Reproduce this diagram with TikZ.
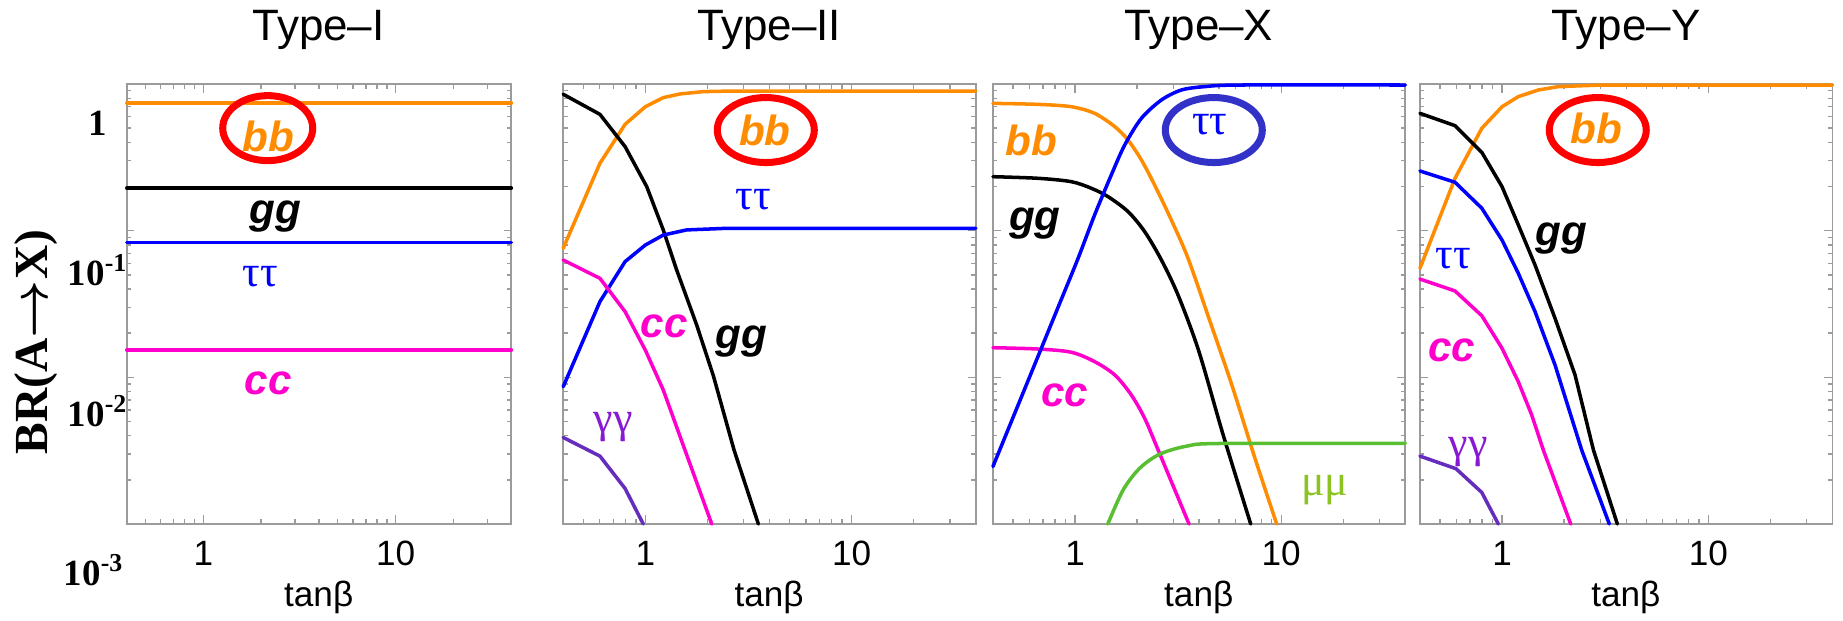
\documentclass[tikz,border=0pt]{standalone}
\usepackage{fontspec}
\setmainfont{Liberation Serif}
\setsansfont{Liberation Sans}
\usetikzlibrary{shapes.geometric}
\definecolor{orangeline}{RGB}{255,140,0}
\definecolor{blueline}{RGB}{0,0,255}
\definecolor{pinkline}{RGB}{255,0,204}
\definecolor{purpleline}{RGB}{100,45,190}
\definecolor{purpletext}{RGB}{135,25,210}
\definecolor{greenline}{RGB}{90,190,50}
\definecolor{greentext}{RGB}{140,195,35}
\definecolor{ringred}{RGB}{255,0,0}
\definecolor{ringblue}{RGB}{50,50,200}
\definecolor{axisgray}{RGB}{155,155,155}
\tikzset{
	panel/.style 2 args={shift={(#1,0.96)}, xscale=#2, yscale=1.4667},
	box/.style={draw=axisgray, line width=0.5pt},
	tk/.style={axisgray, line width=0.4pt},
	br/.style={line width=1pt, line join=round, line cap=round},
	title/.style={font=\sffamily\fontsize{12.5}{14}\selectfont},
	num/.style={font=\sffamily\fontsize{10}{12}\selectfont},
	ylab/.style={font=\bfseries\fontsize{13.5}{15}\selectfont, inner sep=0pt},
	ynum/.style={font=\bfseries\fontsize{10.5}{12}\selectfont},
	quark/.style={font=\sffamily\bfseries\itshape\fontsize{12}{14}\selectfont},
	lepton/.style={font=\fontsize{12.5}{14}\selectfont},
	ring/.style={ellipse, draw, line width=2pt, minimum width=0.97cm, minimum height=0.65cm, inner sep=0pt}
}

\begin{document}
\begin{tikzpicture}
	\useasboundingbox (0,0) rectangle (18.43,6.2);

	% common axis text
	\node[ylab, rotate=90] (brlab) at (0.36,2.78) {BR(A{\boldmath$\rightarrow$}X)};
	\node[ynum] (yone) at (0.975,4.97) {1};
	\node[ynum] (ytenth) at (0.98,3.50) {10\textsuperscript{-1}};
	\node[ynum] (yhundredth) at (0.98,2.09) {10\textsuperscript{-2}};
	\node[ynum] (ythousandth) at (0.94,0.50) {10\textsuperscript{-3}};

	% frames, ticks, titles
	\foreach \ox/\dx/\nm in {2.033/1.923/I, 6.453/2.063/II, 10.75/2.062/X, 15.02/2.063/Y}{
		\begin{scope}[panel={\ox}{\dx}]
			\draw[box] (-0.398,0) rectangle (1.602,3);
			\foreach \t in {0.5,0.6,0.7,0.8,0.9,2,3,4,5,6,7,8,9,20,30} {
				\draw[tk] ({log10(\t)},0) -- ++(0,0.035);
				\draw[tk] ({log10(\t)},3) -- ++(0,-0.035);
			}
			\foreach \t in {0,1} {
				\draw[tk] (\t,0) -- ++(0,0.06);
				\draw[tk] (\t,3) -- ++(0,-0.06);
			}
			\foreach \m in {0,1,2} {
				\foreach \k in {2,...,9} {
					\draw[tk] (-0.398,{\m+log10(\k)}) -- ++(0.022,0);
					\draw[tk] (1.602,{\m+log10(\k)}) -- ++(-0.022,0);
				}
			}
			\foreach \m in {1,2} {
				\draw[tk] (-0.398,\m) -- ++(0.04,0);
				\draw[tk] (1.602,\m) -- ++(-0.04,0);
			}
			\node[title] (title\nm) at (0.6,3.37) {Type–\nm};
			\node[num] (one\nm) at (0,-0.2) {1};
			\node[num] (ten\nm) at (1,-0.2) {10};
			\node[num] (tanb\nm) at (0.6,-0.5) {tanβ};
		\end{scope}
	}

	% Type-I
	\begin{scope}[panel={2.033}{1.923}]
		\draw[br, orangeline] (-0.398,2.87) -- (1.602,2.87);
		\draw[br, black] (-0.398,2.29) -- (1.602,2.29);
		\draw[br, blueline] (-0.398,1.918) -- (1.602,1.918);
		\draw[br, pinkline] (-0.398,1.186) -- (1.602,1.186);

		\node[quark, orangeline] (bbI) at (0.338,2.645) {bb};
		\node[ring, ringred, minimum width=0.9cm] (ringI) at (0.335,2.699) {};
		\node[quark] (ggI) at (0.373,2.093) {gg};
		\node[lepton, blueline] (tautauI) at (0.295,1.689) {ττ};
		\node[quark, pinkline] (ccI) at (0.338,0.961) {cc};
	\end{scope}

	% Type-II
	\begin{scope}[panel={6.453}{2.063}]
		\draw[br, orangeline] (-0.398,1.880) -- (-0.220,2.459) -- (-0.098,2.725) -- (0,2.845) -- (0.087,2.907) -- (0.168,2.932) -- (0.281,2.948) -- (0.427,2.952) -- (1.602,2.952);
		\draw[br, black] (-0.398,2.930) -- (-0.220,2.793) -- (-0.098,2.573) -- (0.007,2.300) -- (0.087,2.005) -- (0.152,1.732) -- (0.249,1.357) -- (0.330,1.010) -- (0.430,0.505) -- (0.548,0);
		\draw[br, blueline] (-0.398,0.936) -- (-0.220,1.516) -- (-0.098,1.789) -- (0,1.902) -- (0.087,1.970) -- (0.200,2.005) -- (0.394,2.016) -- (1.602,2.016);
		\draw[br, pinkline] (-0.398,1.800) -- (-0.220,1.675) -- (-0.098,1.448) -- (0,1.186) -- (0.087,0.914) -- (0.192,0.505) -- (0.322,0);
		\draw[br, purpleline] (-0.398,0.590) -- (-0.220,0.463) -- (-0.098,0.242) -- (-0.010,0);

		\node[quark, orangeline] (bbII) at (0.580,2.686) {bb};
		\node[ring, ringred] (ringII) at (0.584,2.686) {};
		\node[lepton, blueline] (tautauII) at (0.524,2.209) {ττ};
		\node[quark, pinkline] (ccII) at (0.091,1.345) {cc};
		\node[quark] (ggII) at (0.467,1.243) {gg};
		\node[lepton, purpletext] (gagaII) at (-0.155,0.664) {γγ};
	\end{scope}

	% Type-X
	\begin{scope}[panel={10.75}{2.062}]
		\draw[br, orangeline] plot[smooth] coordinates {(-0.398,2.868) (-0.179,2.861) (-0.018,2.845) (0.095,2.800) (0.193,2.709) (0.257,2.618) (0.322,2.482) (0.386,2.311) (0.467,2.073) (0.548,1.812) (0.650,1.40) (0.760,0.95) (0.870,0.46) (0.978,0)};
		\draw[br, black] plot[smooth] coordinates {(-0.398,2.368) (-0.179,2.357) (-0.018,2.334) (0.079,2.289) (0.160,2.232) (0.257,2.130) (0.338,1.993) (0.419,1.80) (0.500,1.56) (0.600,1.18) (0.720,0.60) (0.852,0)};
		\draw[br, pinkline] plot[smooth] coordinates {(-0.398,1.202) (-0.179,1.193) (-0.018,1.171) (0.095,1.107) (0.193,1.016) (0.273,0.880) (0.338,0.720) (0.403,0.505) (0.553,0)};
		\draw[br, greenline] plot[smooth] coordinates {(0.159,0) (0.234,0.234) (0.315,0.382) (0.412,0.477) (0.542,0.531) (0.703,0.549) (1.602,0.55)};
		\draw[br, blueline] plot[smooth] coordinates {(-0.398,0.392) (-0.260,0.866) (-0.082,1.478) (0.015,1.812) (0.095,2.107) (0.176,2.380) (0.241,2.584) (0.322,2.766) (0.419,2.891) (0.516,2.959) (0.629,2.982) (0.807,2.993) (1.602,2.993)};

		\node[quark, orangeline] (bbX) at (-0.212,2.618) {bb};
		\node[quark] (ggX) at (-0.195,2.050) {gg};
		\node[quark, pinkline] (ccX) at (-0.050,0.880) {cc};
		\node[lepton, blueline] (tautauX) at (0.653,2.720) {ττ};
		\node[ring, ringblue] (ringX) at (0.673,2.686) {};
		\node[lepton, greentext] (mumuX) at (1.212,0.232) {μμ};
	\end{scope}

	% Type-Y
	\begin{scope}[panel={15.02}{2.063}]
		\draw[br, orangeline] (-0.398,1.743) -- (-0.228,2.357) -- (-0.098,2.698) -- (0,2.845) -- (0.079,2.914) -- (0.176,2.959) -- (0.273,2.982) -- (0.483,2.993) -- (1.602,2.993);
		\draw[br, black] (-0.398,2.800) -- (-0.228,2.716) -- (-0.098,2.534) -- (0,2.300) -- (0.079,2.039) -- (0.160,1.766) -- (0.257,1.402) -- (0.354,1.016) -- (0.443,0.505) -- (0.559,0);
		\draw[br, blueline] (-0.398,2.407) -- (-0.228,2.330) -- (-0.098,2.153) -- (0,1.936) -- (0.079,1.709) -- (0.160,1.448) -- (0.257,1.084) -- (0.386,0.505) -- (0.520,0);
		\draw[br, pinkline] (-0.398,1.670) -- (-0.228,1.589) -- (-0.098,1.420) -- (0,1.198) -- (0.079,0.970) -- (0.144,0.743) -- (0.200,0.505) -- (0.333,0);
		\draw[br, purpleline] (-0.398,0.463) -- (-0.223,0.377) -- (-0.098,0.215) -- (-0.018,0);

		\node[quark, orangeline] (bbY) at (0.459,2.698) {bb};
		\node[ring, ringred] (ringY) at (0.464,2.686) {};
		\node[quark] (ggY) at (0.289,1.948) {gg};
		\node[lepton, blueline] (tautauY) at (-0.236,1.812) {ττ};
		\node[quark, pinkline] (ccY) at (-0.244,1.186) {cc};
		\node[lepton, purpletext] (gagaY) at (-0.163,0.490) {γγ};
	\end{scope}
\end{tikzpicture}
\end{document}
